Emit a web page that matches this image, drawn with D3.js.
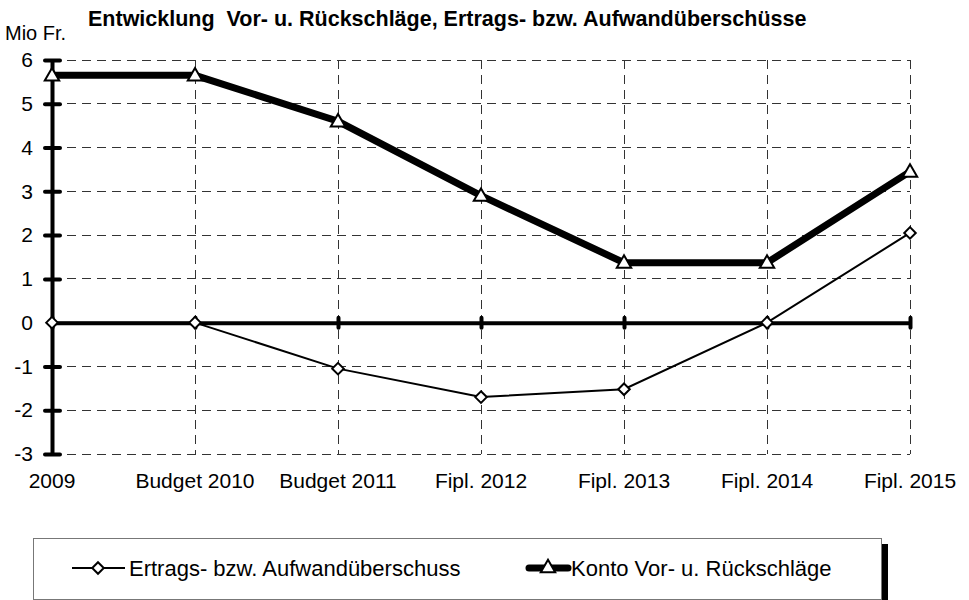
<!DOCTYPE html>
<html>
<head>
<meta charset="utf-8">
<script src="https://cdn.jsdelivr.net/npm/d3@7"></script>
<style>
  body { margin: 0; background: #fff; }
  text { font-family: "Liberation Sans", Arial, sans-serif; fill: #000; }
</style>
</head>
<body>
<div id="canvas"></div>
<script>
const categories = ["2009", "Budget 2010", "Budget 2011", "Fipl. 2012", "Fipl. 2013", "Fipl. 2014", "Fipl. 2015"];
const ertrags = [0, 0, -1.05, -1.7, -1.52, 0, 2.05];
const konto = [5.65, 5.65, 4.6, 2.9, 1.37, 1.37, 3.45];
const yTicks = [-3, -2, -1, 0, 1, 2, 3, 4, 5, 6];
const seriesNames = ["Ertrags- bzw. Aufwandüberschuss", "Konto Vor- u. Rückschläge"];

const width = 969;
const height = 600;
const margin = { top: 60, left: 52, bottom: 146, right: 59 };
const fontSize = "21px";

const svg = d3.select("#canvas").append("svg")
    .attr("width", width)
    .attr("height", height);

const x = d3.scalePoint()
    .domain(categories)
    .range([margin.left, width - margin.right]);

const y = d3.scaleLinear()
    .domain([-3, 6])
    .range([height - margin.bottom, margin.top]);

// grid
const grid = svg.append("g")
    .attr("shape-rendering", "crispEdges");

grid.append("g")
    .selectAll("line")
    .data(yTicks.filter((d) => d !== 0))
    .enter().append("line")
    .attr("x1", x(categories[0]))
    .attr("x2", x(categories[categories.length - 1]))
    .attr("y1", (d) => y(d))
    .attr("y2", (d) => y(d))
    .attr("stroke", "#333")
    .attr("stroke-width", 1)
    .attr("stroke-dasharray", "9,6");

grid.append("g")
    .selectAll("line")
    .data(categories.slice(1))
    .enter().append("line")
    .attr("x1", (d) => x(d))
    .attr("x2", (d) => x(d))
    .attr("y1", y(6))
    .attr("y2", y(-3))
    .attr("stroke", "#333")
    .attr("stroke-width", 1)
    .attr("stroke-dasharray", "9,6");

// y axis
const yAxis = svg.append("g")
    .attr("transform", `translate(${margin.left},0)`)
    .call(d3.axisLeft(y).tickValues(yTicks).tickSize(0).tickPadding(19).tickFormat((d) => String(d)));
yAxis.select(".domain")
    .attr("stroke", "#000")
    .attr("stroke-width", 4);
yAxis.selectAll(".tick text")
    .style("font-size", fontSize)
    .style("font-family", "Liberation Sans, Arial, sans-serif");
yAxis.selectAll(".tick")
    .filter((d) => d !== 0)
    .append("line")
    .attr("x1", -7).attr("x2", 8)
    .attr("stroke", "#000")
    .attr("stroke-width", 4)
    .attr("stroke-linecap", "round");

// zero line with tick marks
const xAxis = svg.append("g")
    .attr("transform", `translate(0,${y(0)})`)
    .call(d3.axisBottom(x).tickSize(0).tickFormat(""));
xAxis.select(".domain")
    .attr("stroke", "#000")
    .attr("stroke-width", 4);
xAxis.selectAll(".tick")
    .append("line")
    .attr("y1", -5).attr("y2", 5)
    .attr("stroke", "#000")
    .attr("stroke-width", 4)
    .attr("stroke-linecap", "round");

// category labels
svg.append("g")
    .selectAll("text")
    .data(categories)
    .enter().append("text")
    .attr("x", (d) => x(d))
    .attr("y", y(-3) + 34)
    .attr("text-anchor", "middle")
    .style("font-size", fontSize)
    .text((d) => d);

// lines
const line = d3.line()
    .x((d, i) => x(categories[i]))
    .y((d) => y(d));

svg.append("path")
    .datum(ertrags)
    .attr("fill", "none")
    .attr("stroke", "#000")
    .attr("stroke-width", 2)
    .attr("d", line);

svg.append("path")
    .datum(konto)
    .attr("fill", "none")
    .attr("stroke", "#000")
    .attr("stroke-width", 7)
    .attr("stroke-linejoin", "miter")
    .attr("d", line);

const diamond = d3.symbol().type(d3.symbolDiamond2).size(85);
const triangle = d3.symbol().type(d3.symbolTriangle).size(90);

svg.append("g")
    .selectAll("path")
    .data(ertrags)
    .enter().append("path")
    .attr("transform", (d, i) => `translate(${x(categories[i])},${y(d)})`)
    .attr("d", diamond)
    .attr("fill", "#fff")
    .attr("stroke", "#000")
    .attr("stroke-width", 2);

svg.append("g")
    .selectAll("path")
    .data(konto)
    .enter().append("path")
    .attr("transform", (d, i) => `translate(${x(categories[i])},${y(d) + 1})`)
    .attr("d", triangle)
    .attr("fill", "#fff")
    .attr("stroke", "#000")
    .attr("stroke-width", 2);

// titles
svg.append("text")
    .attr("x", 88)
    .attr("y", 26)
    .attr("xml:space", "preserve")
    .style("font-size", "21.5px")
    .style("font-weight", "bold")
    .text("Entwicklung  Vor- u. Rückschläge, Ertrags- bzw. Aufwandüberschüsse");

svg.append("text")
    .attr("x", 5)
    .attr("y", 40)
    .style("font-size", "20px")
    .text("Mio Fr.");

// legend
const lg = svg.append("g");
lg.append("rect")
    .attr("x", 882).attr("y", 544)
    .attr("width", 6).attr("height", 60)
    .attr("fill", "#000");
lg.append("rect")
    .attr("x", 33.5).attr("y", 538.5)
    .attr("width", 848).attr("height", 61)
    .attr("fill", "#fff")
    .attr("stroke", "#777")
    .attr("stroke-width", 1);

lg.append("line")
    .attr("x1", 72).attr("x2", 125)
    .attr("y1", 568).attr("y2", 568)
    .attr("stroke", "#000").attr("stroke-width", 2);
lg.append("path")
    .attr("transform", "translate(98,568)")
    .attr("d", diamond)
    .attr("fill", "#fff").attr("stroke", "#000").attr("stroke-width", 2);
lg.append("text")
    .attr("x", 129).attr("y", 576)
    .style("font-size", "22px")
    .text(seriesNames[0]);

lg.append("line")
    .attr("x1", 529).attr("x2", 568)
    .attr("y1", 568).attr("y2", 568)
    .attr("stroke", "#000").attr("stroke-width", 7)
    .attr("stroke-linecap", "round");
lg.append("path")
    .attr("transform", "translate(548,568)")
    .attr("d", triangle)
    .attr("fill", "#fff").attr("stroke", "#000").attr("stroke-width", 2);
lg.append("text")
    .attr("x", 571).attr("y", 576)
    .style("font-size", "22px")
    .text(seriesNames[1]);
</script>
</body>
</html>
